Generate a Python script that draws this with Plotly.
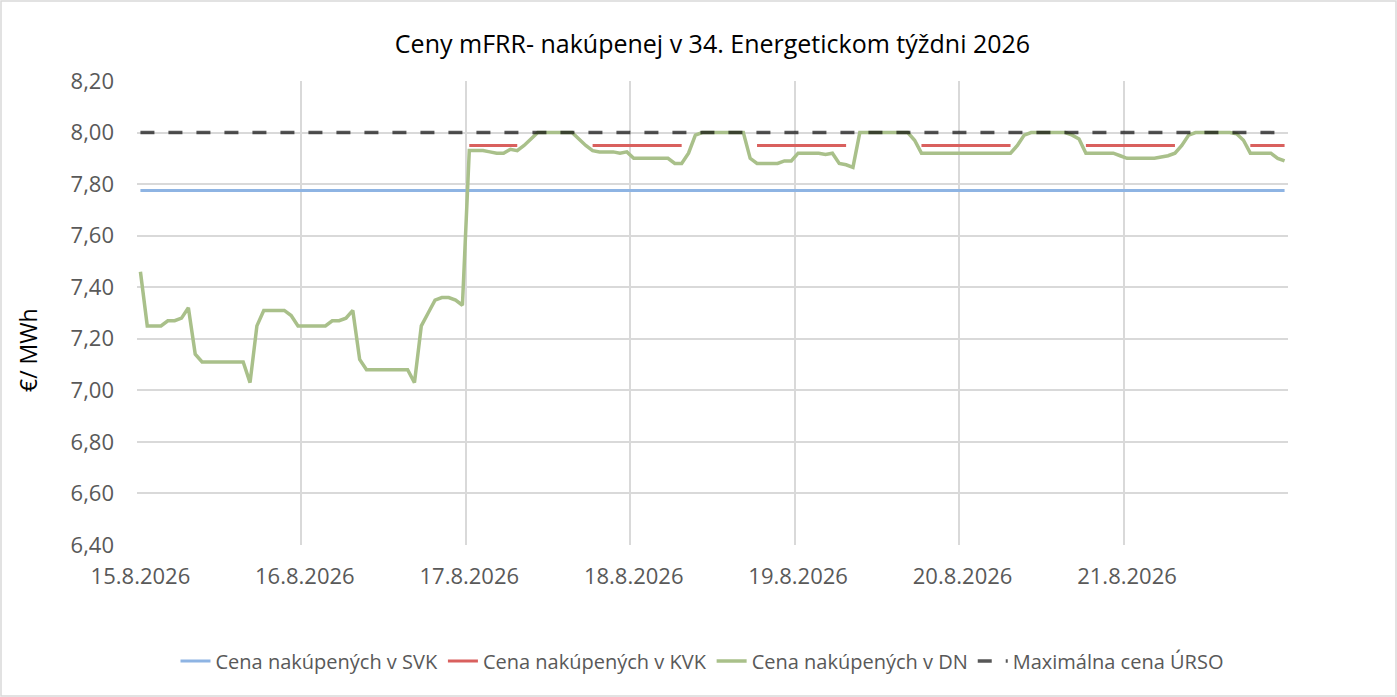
import plotly.graph_objects as go

# ---- data (hourly, 15.8.2026 00:00 .. 21.8.2026 23:00) ----
day_labels = ["15.8.2026", "16.8.2026", "17.8.2026", "18.8.2026",
              "19.8.2026", "20.8.2026", "21.8.2026"]
hours = list(range(168))

svk_price = 7.775
max_price = 8.00

N = None
kvk = [
    N, N, N, N, N, N, N, N, N, N, N, N, N, N, N, N, N, N, N, N, N, N, N, N,
    N, N, N, N, N, N, N, N, N, N, N, N, N, N, N, N, N, N, N, N, N, N, N, N,
    7.95, 7.95, 7.95, 7.95, 7.95, 7.95, 7.95, 7.95, N, N, N, N, N, N, N, N, N, N, 7.95, 7.95, 7.95, 7.95, 7.95, 7.95,
    7.95, 7.95, 7.95, 7.95, 7.95, 7.95, 7.95, 7.95, N, N, N, N, N, N, N, N, N, N, 7.95, 7.95, 7.95, 7.95, 7.95, 7.95,
    7.95, 7.95, 7.95, 7.95, 7.95, 7.95, 7.95, 7.95, N, N, N, N, N, N, N, N, N, N, 7.95, 7.95, 7.95, 7.95, 7.95, 7.95,
    7.95, 7.95, 7.95, 7.95, 7.95, 7.95, 7.95, 7.95, N, N, N, N, N, N, N, N, N, N, 7.95, 7.95, 7.95, 7.95, 7.95, 7.95,
    7.95, 7.95, 7.95, 7.95, 7.95, 7.95, 7.95, 7.95, N, N, N, N, N, N, N, N, N, N, 7.95, 7.95, 7.95, 7.95, 7.95, 7.95,
]

dn = [
    7.46, 7.25, 7.25, 7.25, 7.27, 7.27, 7.28, 7.32, 7.14, 7.11, 7.11, 7.11,
    7.11, 7.11, 7.11, 7.11, 7.03, 7.25, 7.31, 7.31, 7.31, 7.31, 7.29, 7.25,
    7.25, 7.25, 7.25, 7.25, 7.27, 7.27, 7.28, 7.31, 7.12, 7.08, 7.08, 7.08,
    7.08, 7.08, 7.08, 7.08, 7.03, 7.25, 7.30, 7.35, 7.36, 7.36, 7.35, 7.33,
    7.93, 7.93, 7.93, 7.925, 7.92, 7.92, 7.935, 7.93, 7.95, 7.975, 8.00, 8.00,
    8.00, 8.00, 8.00, 8.00, 7.975, 7.95, 7.93, 7.925, 7.925, 7.925, 7.92, 7.925,
    7.90, 7.90, 7.90, 7.90, 7.90, 7.90, 7.88, 7.88, 7.92, 7.99, 8.00, 8.00,
    8.00, 8.00, 8.00, 8.00, 8.00, 7.90, 7.88, 7.88, 7.88, 7.88, 7.89, 7.89,
    7.92, 7.92, 7.92, 7.92, 7.915, 7.92, 7.88, 7.875, 7.865, 8.00, 8.00, 8.00,
    8.00, 8.00, 8.00, 8.00, 8.00, 7.97, 7.92, 7.92, 7.92, 7.92, 7.92, 7.92,
    7.92, 7.92, 7.92, 7.92, 7.92, 7.92, 7.92, 7.92, 7.95, 7.99, 8.00, 8.00,
    8.00, 8.00, 8.00, 8.00, 7.99, 7.975, 7.92, 7.92, 7.92, 7.92, 7.92, 7.91,
    7.90, 7.90, 7.90, 7.90, 7.90, 7.905, 7.91, 7.92, 7.95, 7.99, 8.00, 8.00,
    8.00, 8.00, 8.00, 8.00, 7.995, 7.97, 7.92, 7.92, 7.92, 7.92, 7.90, 7.89,
]

svk = [svk_price for _ in hours]
max_urso = [max_price for _ in hours]

# ---- figure ----
W, H = 1397, 697
ML, MR, MT, MB = 137, 109, 81, 152
PW, PH = W - ML - MR, H - MT - MB

FONT = "Open Sans"
GREY = "#595959"
GRID = "#D9D9D9"

fig = go.Figure()
fig.add_trace(go.Scatter(x=hours, y=svk, mode="lines", name="Cena nakúpených v SVK",
                         line=dict(color="#8EB4E3", width=3)))
fig.add_trace(go.Scatter(x=hours, y=kvk, mode="lines", name="Cena nakúpených v KVK",
                         line=dict(color="#D9605E", width=3), connectgaps=False))
fig.add_trace(go.Scatter(x=hours, y=dn, mode="lines", name="Cena nakúpených v DN",
                         line=dict(color="#A9C08A", width=3.5)))
fig.add_trace(go.Scatter(x=hours, y=max_urso, mode="lines", name="Maximálna cena ÚRSO",
                         line=dict(color="rgba(0,0,0,0.66)", width=3.5, dash="14px,14px")))

fig.update_layout(
    width=W, height=H,
    margin=dict(l=ML, r=MR, t=MT, b=MB, autoexpand=False),
    paper_bgcolor="white", plot_bgcolor="white",
    separators=", ",
    font=dict(family=FONT, color=GREY, size=20),
    title=dict(text="Ceny mFRR- nakúpenej v 34. Energetickom týždni 2026",
               x=0.5, xref="paper", y=1 - 44 / H, yref="container",
               xanchor="center", yanchor="middle",
               font=dict(family=FONT, size=25, color="#000000")),
    showlegend=True,
    legend=dict(orientation="h", x=(702 - ML) / PW, xanchor="center",
                y=-(661 - 545) / PH, yanchor="middle",
                font=dict(family=FONT, size=20, color=GREY),
                itemwidth=30, tracegroupgap=0),
    xaxis=dict(range=[-0.5, 167.5], tickmode="array", automargin=False,
               tickvals=[0, 24, 48, 72, 96, 120, 144], ticktext=day_labels,
               showgrid=False, zeroline=False, showline=False, ticks="",
               ticklabelstandoff=16,
               tickfont=dict(family=FONT, size=22, color=GREY),
               minor=dict(tickmode="array",
                          tickvals=[-0.5, 23.5, 47.5, 71.5, 95.5, 119.5, 143.5, 167.5],
                          showgrid=True, gridcolor=GRID, gridwidth=1.5, ticks="")),
    yaxis=dict(range=[6.4, 8.2], dtick=0.2, tick0=6.4, tickformat=".2f", automargin=False,
               showgrid=True, gridcolor=GRID, gridwidth=1.5,
               zeroline=False, showline=False, ticks="",
               ticklabelstandoff=22,
               tickfont=dict(family=FONT, size=22, color=GREY)),
    annotations=[dict(text="€/ MWh", textangle=-90, xref="paper", yref="paper",
                      x=(28 - ML) / PW, y=(545 - 350) / PH, showarrow=False,
                      xanchor="center", yanchor="middle",
                      font=dict(family=FONT, size=23, color="#000000"))],
    shapes=[dict(type="rect", xref="paper", yref="paper",
                 x0=(1 - ML) / PW, x1=(W - 1 - ML) / PW,
                 y0=-(H - 1 - (H - MB)) / PH, y1=(H - MB - 1) / PH,
                 line=dict(color=GRID, width=1.5), layer="below")],
)

fig.write_html("out.html", config={"displayModeBar": False},
               post_script="document.body.style.margin='0';document.body.style.padding='0';")
